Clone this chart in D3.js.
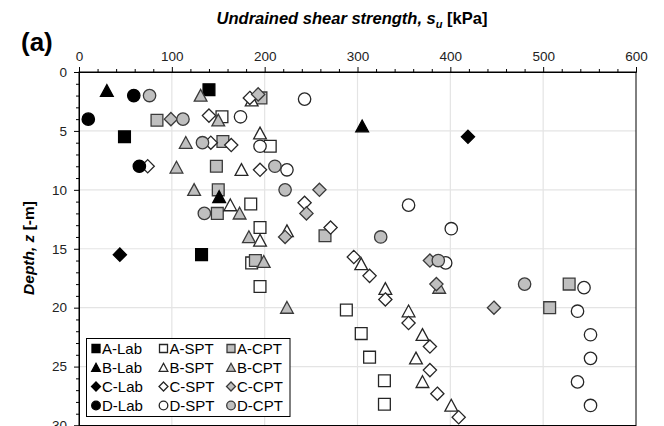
<!DOCTYPE html>
<html>
<head>
<meta charset="utf-8">
<script src="https://cdn.jsdelivr.net/npm/d3@7"></script>
<style>
  html, body { margin: 0; padding: 0; background: #fff; }
  svg { display: block; font-family: "Liberation Sans", Arial, sans-serif; }
</style>
</head>
<body>
<svg id="chart" width="664" height="426"></svg>
<script>
// Undrained shear strength su [kPa] against depth z [m], per site (A–D) and method
const aLab = [[140, 1.5], [49, 5.5], [132, 15.5]];
const aSpt = [[154, 3.8], [206, 6.3], [185, 11.2], [195, 13.2], [186, 16.2], [195, 18.2],
              [288, 20.2], [304, 22.2], [313, 24.2], [329, 26.2], [329, 28.2]];
const aCpt = [[196, 2.2], [84, 4.1], [155, 5.9], [148, 8], [150, 10], [149, 12],
              [265, 13.9], [190, 16], [528, 18], [507, 20]];
const bLab = [[30, 1.6], [305, 4.6], [151, 10.6]];
const bSpt = [[186, 2.4], [195, 5.2], [175, 8.3], [163, 11.3], [224, 13.5], [195, 14.3],
              [304, 16.3], [330, 18.4], [355, 20.3], [370, 22.3], [363, 24.3], [370, 26.3], [401, 28.3]];
const bCpt = [[131, 2], [150, 4.1], [115, 6], [105, 8.1], [124, 10], [173, 12],
              [183, 14], [199, 16.1], [388, 18.3], [224, 20]];
const cLab = [[419, 5.5], [44, 15.5]];
const cSpt = [[184, 2.2], [140, 3.7], [142, 6], [164, 6.2], [74, 8], [195, 8.3], [243, 11.1],
              [271, 13.2], [296, 15.7], [313, 17.3], [330, 19.3], [355, 21.3], [378, 23.3],
              [378, 25.3], [386, 27.3], [409, 29.3]];
const cCpt = [[193, 1.9], [99, 4], [259, 10], [245, 12], [222, 14], [378, 16], [385, 18], [447, 20]];
const dLab = [[59, 2], [10, 4], [65, 8]];
const dSpt = [[243, 2.3], [174, 3.8], [195, 6.3], [224, 8.3], [355, 11.3], [401, 13.3], [395, 16.2],
              [544, 18.3], [537, 20.3], [551, 22.3], [551, 24.3], [537, 26.3], [551, 28.3]];
const dCpt = [[76, 2], [112, 4], [133, 6], [211, 8], [222, 10], [135, 12], [325, 14], [387, 16], [480, 18]];

const xTicks = [0, 100, 200, 300, 400, 500, 600];
const yTicks = [0, 5, 10, 15, 20, 25, 30];

// series in drawing / legend order (row by row)
const series = [
  { name: "A-Lab", shape: "square",   kind: "lab", data: aLab },
  { name: "A-SPT", shape: "square",   kind: "spt", data: aSpt },
  { name: "A-CPT", shape: "square",   kind: "cpt", data: aCpt },
  { name: "B-Lab", shape: "triangle", kind: "lab", data: bLab },
  { name: "B-SPT", shape: "triangle", kind: "spt", data: bSpt },
  { name: "B-CPT", shape: "triangle", kind: "cpt", data: bCpt },
  { name: "C-Lab", shape: "diamond",  kind: "lab", data: cLab },
  { name: "C-SPT", shape: "diamond",  kind: "spt", data: cSpt },
  { name: "C-CPT", shape: "diamond",  kind: "cpt", data: cCpt },
  { name: "D-Lab", shape: "circle",   kind: "lab", data: dLab },
  { name: "D-SPT", shape: "circle",   kind: "spt", data: dSpt },
  { name: "D-CPT", shape: "circle",   kind: "cpt", data: dCpt }
];

const styles = {
  lab: { fill: "#000000", stroke: "#000000" },
  spt: { fill: "#ffffff", stroke: "#262626" },
  cpt: { fill: "#bfbfbf", stroke: "#3a3a3a" }
};

// marker outline centred on (0,0), s = nominal size in px
function shapePath(shape, s) {
  const h = s / 2;
  switch (shape) {
    case "square":   return `M${-h},${-h}H${h}V${h}H${-h}Z`;
    case "triangle": return `M0,${-h * 1.05}L${h * 1.08},${h * 0.95}L${-h * 1.08},${h * 0.95}Z`;
    case "diamond":  { const d = h * 1.12; return `M0,${-d}L${d},0L0,${d}L${-d},0Z`; }
    default:         return d3.path().toString();
  }
}

const svg = d3.select("#chart");
const m = { left: 79, right: 636, top: 72, bottom: 425.5 };

const x = d3.scaleLinear().domain([0, 600]).range([m.left, m.right]);
const y = d3.scaleLinear().domain([0, 30]).range([m.top, m.bottom]);

// grid
const grid = svg.append("g").attr("stroke", "#e4e4e4").attr("stroke-width", 1.2);
xTicks.slice(1, -1).forEach(t => grid.append("line")
  .attr("x1", x(t)).attr("x2", x(t)).attr("y1", m.top).attr("y2", m.bottom));
yTicks.slice(1, -1).forEach(t => grid.append("line")
  .attr("x1", m.left).attr("x2", m.right).attr("y1", y(t)).attr("y2", y(t)));

// plot frame
svg.append("rect")
  .attr("x", m.left).attr("y", m.top)
  .attr("width", m.right - m.left).attr("height", m.bottom - m.top)
  .attr("fill", "none").attr("stroke", "#000").attr("stroke-width", 1);

// top x axis: majors every 100, minors every 20
const xAxis = d3.axisTop(x).tickValues(xTicks).tickSize(5).tickPadding(6).tickFormat(d3.format("d"));
const gx = svg.append("g").attr("transform", `translate(0,${m.top})`).call(xAxis);
gx.selectAll(".tick line").attr("stroke", "#000");
svg.append("g").attr("transform", `translate(0,${m.top})`)
  .call(d3.axisTop(x).tickValues(d3.range(0, 601, 20).filter(v => v % 100)).tickSize(3).tickFormat(""))
  .call(g => g.select(".domain").remove())
  .selectAll(".tick line").attr("stroke", "#000");

// left y axis: majors every 5, minors every 1
const yAxis = d3.axisLeft(y).tickValues(yTicks).tickSize(5).tickPadding(7).tickFormat(d3.format("d"));
const gy = svg.append("g").attr("transform", `translate(${m.left},0)`).call(yAxis);
gy.selectAll(".tick line").attr("stroke", "#000");
svg.append("g").attr("transform", `translate(${m.left},0)`)
  .call(d3.axisLeft(y).tickValues(d3.range(0, 31, 1).filter(v => v % 5)).tickSize(3).tickFormat(""))
  .call(g => g.select(".domain").remove())
  .selectAll(".tick line").attr("stroke", "#000");

[gx, gy].forEach(g => {
  g.select(".domain").attr("stroke", "#000");
  g.selectAll(".tick text")
    .attr("font-family", "Liberation Sans, Arial, sans-serif")
    .attr("font-size", 13.5).attr("fill", "#222");
});

// markers
const plot = svg.append("g");
function drawMarker(sel, shape, size, st) {
  if (shape === "circle") {
    sel.append("circle").attr("r", size / 2 + 0.3)
      .attr("fill", st.fill).attr("stroke", st.stroke).attr("stroke-width", 1.3);
  } else {
    sel.append("path").attr("d", shapePath(shape, size))
      .attr("fill", st.fill).attr("stroke", st.stroke).attr("stroke-width", 1.3);
  }
}
series.forEach(s => {
  const st = styles[s.kind];
  plot.append("g").selectAll("g").data(s.data).join("g")
    .attr("transform", d => `translate(${x(d[0])},${y(d[1])})`)
    .each(function () { drawMarker(d3.select(this), s.shape, 11.8, st); });
});

// legend
const legend = svg.append("g");
legend.append("rect")
  .attr("x", 86.5).attr("y", 338.5).attr("width", 203.5).attr("height", 78)
  .attr("fill", "#fff").attr("stroke", "#000").attr("stroke-width", 1);
const colX = [96, 163.5, 231];
const rowY = [348.5, 367.5, 386.5, 405.5];
series.forEach((s, i) => {
  const col = i % 3, row = Math.floor(i / 3);
  const g = legend.append("g").attr("transform", `translate(${colX[col]},${rowY[row]})`);
  drawMarker(g, s.shape, 8, styles[s.kind]);
  g.append("text").attr("x", 6).attr("y", 5.5)
    .attr("font-size", 15).attr("fill", "#000").text(s.name);
});

// axis titles
const title = svg.append("text")
  .attr("x", 352).attr("y", 24).attr("text-anchor", "middle")
  .attr("font-size", 16.5).attr("font-weight", "bold").attr("fill", "#000");
title.append("tspan").attr("font-style", "italic").text("Undrained shear strength, s");
title.append("tspan").attr("font-style", "italic").attr("font-size", 11).attr("dy", 4).text("u");
title.append("tspan").attr("dy", -4).text(" [kPa]");

const ylab = svg.append("text")
  .attr("transform", "translate(34,248) rotate(-90)").attr("text-anchor", "middle")
  .attr("font-size", 15.5).attr("font-weight", "bold").attr("fill", "#000");
ylab.append("tspan").attr("font-style", "italic").text("Depth, z");
ylab.append("tspan").text(" [-m]");

svg.append("text").attr("x", 21).attr("y", 51)
  .attr("font-size", 26).attr("font-weight", "bold").attr("fill", "#000").text("(a)");
</script>
</body>
</html>
